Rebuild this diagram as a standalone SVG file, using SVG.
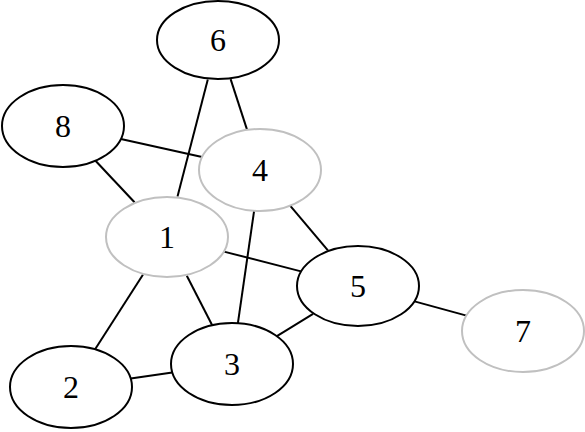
<svg xmlns="http://www.w3.org/2000/svg" width="585" height="432" viewBox="0 0 585 432">
<style>
.n ellipse{fill:#ffffff;stroke:#000000;stroke-width:2}
.n.g ellipse{stroke:#c0c0c0}
.n text{font-family:"Liberation Serif","Times New Roman",serif;font-size:32px;text-anchor:middle;fill:#000000}
#edges line{stroke:#000000;stroke-width:2}
</style>
<rect width="585" height="432" fill="#ffffff"/>
<g id="edges">
<line x1="207.8" y1="79.4" x2="177.5" y2="196.6"/>
<line x1="230.6" y1="79.1" x2="247.1" y2="129.9"/>
<line x1="120.9" y1="138.9" x2="202.1" y2="157.1"/>
<line x1="95.5" y1="160.7" x2="134.5" y2="202.3"/>
<line x1="224" y1="251.6" x2="301" y2="271.4"/>
<line x1="186.8" y1="275.8" x2="212.2" y2="325.2"/>
<line x1="142.9" y1="274.7" x2="95.1" y2="349.3"/>
<line x1="254.1" y1="210.8" x2="237.9" y2="323.2"/>
<line x1="290.1" y1="205.6" x2="327.9" y2="250.4"/>
<line x1="313.1" y1="313.8" x2="276.9" y2="336.2"/>
<line x1="414.5" y1="301.4" x2="466.5" y2="315.6"/>
<line x1="130.7" y1="378.5" x2="172.3" y2="372.5"/>
</g>
<g id="node6" class="n"><ellipse cx="218" cy="40" rx="61" ry="39"/><text x="218" y="51">6</text></g>
<g id="node8" class="n"><ellipse cx="63" cy="126" rx="61" ry="41"/><text x="63" y="137">8</text></g>
<g id="node4" class="n g"><ellipse cx="260" cy="170" rx="61" ry="41"/><text x="260" y="181">4</text></g>
<g id="node1" class="n g"><ellipse cx="167" cy="237" rx="61" ry="40"/><text x="167" y="248">1</text></g>
<g id="node5" class="n"><ellipse cx="358" cy="286" rx="61" ry="40"/><text x="358" y="297">5</text></g>
<g id="node7" class="n g"><ellipse cx="523" cy="331" rx="61" ry="41"/><text x="523" y="342">7</text></g>
<g id="node3" class="n"><ellipse cx="232" cy="364" rx="61" ry="41"/><text x="232" y="375">3</text></g>
<g id="node2" class="n"><ellipse cx="71" cy="387" rx="61" ry="41"/><text x="71" y="398">2</text></g>
</svg>
